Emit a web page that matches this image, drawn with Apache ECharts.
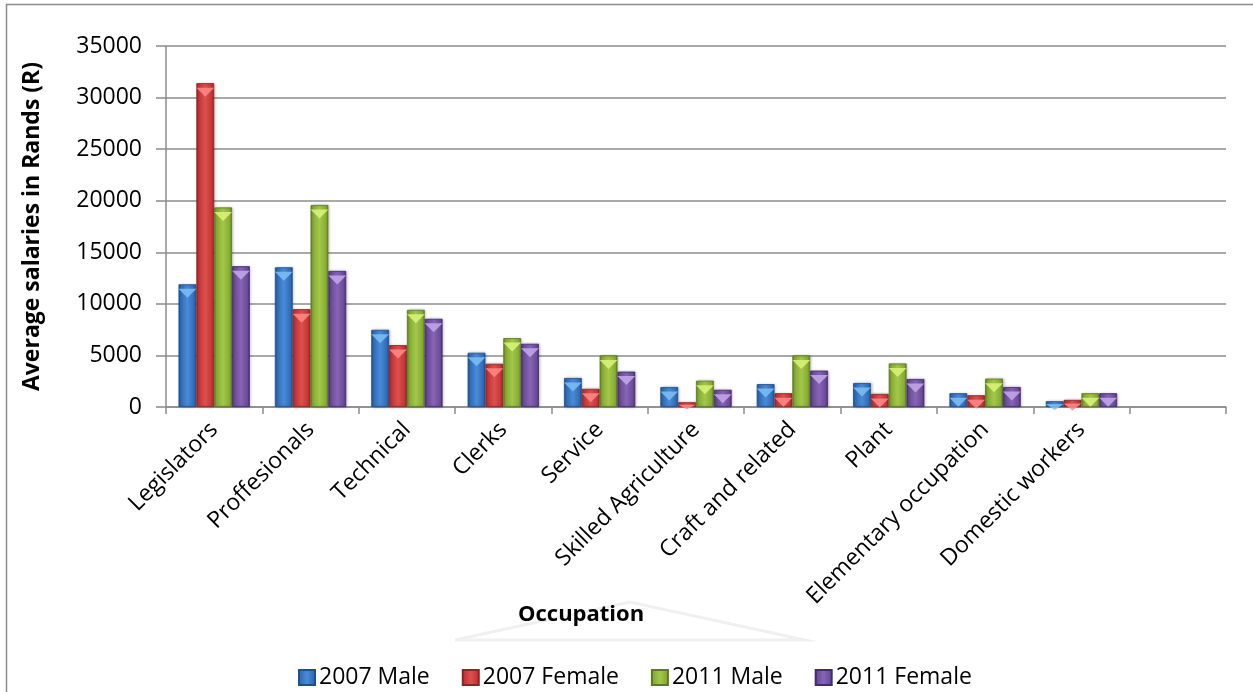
<!DOCTYPE html>
<html>
<head>
<meta charset="utf-8">
<script src="https://cdn.jsdelivr.net/npm/echarts@6/dist/echarts.min.js"></script>
<style>
  html, body { margin: 0; padding: 0; background: #fff; }
  #chart { width: 1253px; height: 692px; }
</style>
</head>
<body>
<div id="chart"></div>
<script>
// values (Rands)
const categories = ['Legislators', 'Proffesionals', 'Technical', 'Clerks', 'Service',
  'Skilled Agriculture', 'Craft and related', 'Plant', 'Elementary occupation', 'Domestic workers', '']
const male2007 = [11900, 13550, 7480, 5260, 2810, 1930, 2220, 2320, 1340, 560, null]
const female2007 = [31400, 9480, 6000, 4190, 1760, 460, 1340, 1270, 1140, 690, null]
const male2011 = [19350, 19580, 9420, 6680, 5000, 2550, 5000, 4220, 2750, 1340, null]
const female2011 = [13650, 13190, 8550, 6130, 3430, 1670, 3530, 2710, 1930, 1340, null]
const seriesNames = ['2007 Male', '2007 Female', '2011 Male', '2011 Female']
const yTicks = { min: 0, max: 35000, step: 5000 }

const font = '"Open Sans", "Liberation Sans", sans-serif'
const plotHeight = 361 // px between 0 and 35000

// dark, mid, light, cap colour for each series
const palette = [
  ['#1f4f8f', '#2f6cb8', '#4a8ad6', '#7fc0f5'],
  ['#8f2424', '#c43434', '#dc5050', '#ff8a8a'],
  ['#5d7a22', '#86ab34', '#a2c848', '#dcf57a'],
  ['#432c6c', '#6a4a98', '#8565b4', '#c4a8ec']
]

function barGradient (c) {
  return new echarts.graphic.LinearGradient(0, 0, 1, 0, [
    { offset: 0, color: c[0] },
    { offset: 0.12, color: c[1] },
    { offset: 0.5, color: c[2] },
    { offset: 0.88, color: c[1] },
    { offset: 1, color: c[0] }
  ])
}

const data = [male2007, female2007, male2011, female2011]

const barSeries = seriesNames.map((name, i) => ({
  name: name,
  type: 'bar',
  data: data[i],
  barGap: '0%',
  barCategoryGap: '26%',
  itemStyle: {
    color: barGradient(palette[i]),
    borderColor: palette[i][0],
    borderWidth: 0.8,
    shadowColor: 'rgba(0,0,0,0.25)',
    shadowBlur: 3,
    shadowOffsetX: 1
  }
}))

// little bevelled caps on top of each bar, flattened on very short bars
const capSeries = seriesNames.map((name, i) => ({
  name: 'cap' + i,
  type: 'pictorialBar',
  data: data[i].map(v => {
    if (v == null) return null
    const h = Math.min(9, v / yTicks.max * plotHeight)
    return { value: v, symbolSize: ['100%', h] }
  }),
  barGap: '0%',
  barCategoryGap: '26%',
  symbol: 'path://M0,0 L20,0 L10,10 Z',
  symbolPosition: 'end',
  symbolOffset: [0, '50%'],
  itemStyle: { color: palette[i][3], opacity: 0.85 },
  silent: true,
  z: 3
}))

const chart = echarts.init(document.getElementById('chart'))

chart.setOption({
  animation: false,
  textStyle: { fontFamily: font },
  grid: { left: 166, right: 27, top: 46, bottom: 285 },
  legend: {
    data: seriesNames,
    left: 293,
    top: 661,
    itemWidth: 16,
    itemHeight: 15,
    itemGap: 32,
    icon: 'rect',
    textStyle: { fontFamily: font, fontSize: 23, color: '#000', padding: [0, 0, 0, -1] }
  },
  xAxis: {
    type: 'category',
    data: categories,
    axisLine: { lineStyle: { color: '#8c8c8c', width: 1.5 } },
    axisTick: { show: true, length: 7, lineStyle: { color: '#8c8c8c', width: 1.5 } },
    axisLabel: {
      interval: 0,
      rotate: 45,
      margin: 19,
      fontSize: 23,
      color: '#000',
      fontFamily: font
    }
  },
  yAxis: {
    type: 'value',
    min: yTicks.min,
    max: yTicks.max,
    interval: yTicks.step,
    name: 'Average salaries in Rands (R)',
    nameLocation: 'middle',
    nameGap: 122,
    nameTextStyle: { fontSize: 23, fontWeight: 'bold', color: '#000', fontFamily: font },
    axisLine: { show: true, lineStyle: { color: '#8c8c8c', width: 1.5 } },
    axisTick: { show: true, length: 10, lineStyle: { color: '#8c8c8c', width: 1.5 } },
    axisLabel: { fontSize: 23, color: '#000', margin: 24, fontFamily: font, formatter: v => String(v) },
    splitLine: { lineStyle: { color: '#8c8c8c', width: 1.5 } }
  },
  graphic: [
    {
      type: 'rect',
      shape: { x: 6.5, y: 4.5, width: 1300, height: 800 },
      style: { fill: 'none', stroke: '#8c8c8c', lineWidth: 1.5 },
      silent: true
    },
    {
      // faint watermark behind the axis title
      type: 'polyline',
      shape: { points: [[455, 640], [630, 602], [805, 640], [455, 640]] },
      style: { fill: 'none', stroke: '#f0f0f0', lineWidth: 3 },
      silent: true,
      z: -1
    },
    {
      type: 'text',
      left: 518,
      top: 604,
      style: { text: 'Occupation', font: 'bold 22px ' + font, fill: '#000' }
    }
  ],
  series: barSeries.concat(capSeries)
})

window.addEventListener('resize', () => {
  chart.resize()
})
</script>
</body>
</html>
